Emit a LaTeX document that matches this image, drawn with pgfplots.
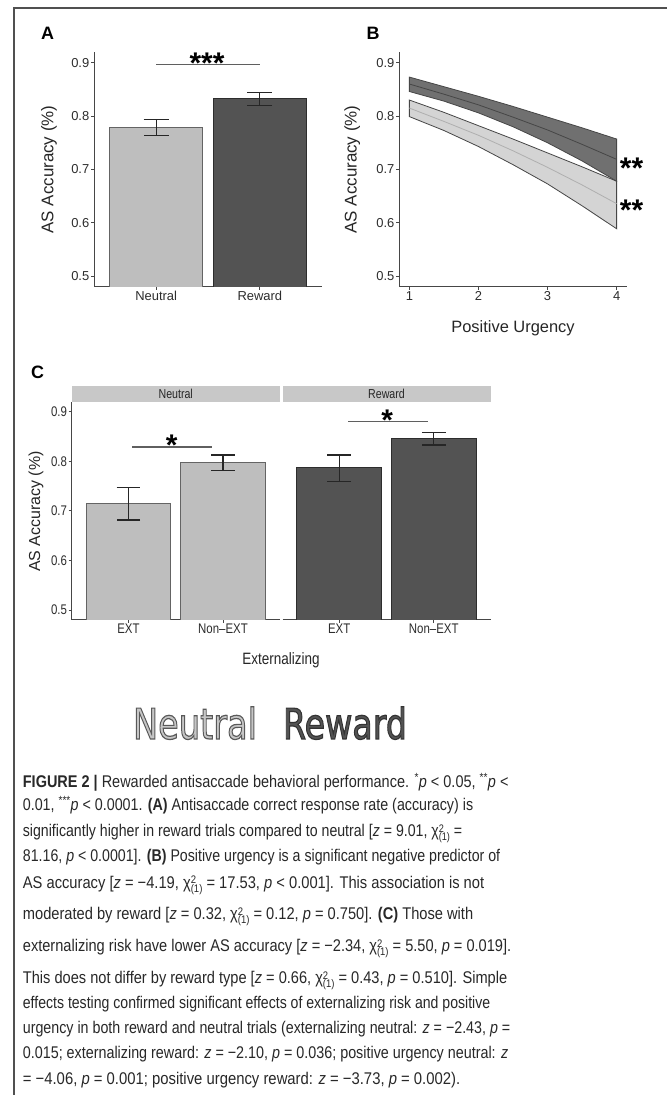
\documentclass[border=0pt]{standalone}
\usepackage{pgfplots}
\pgfplotsset{compat=1.18}
\usepackage{fontspec}
\usepackage{graphicx}
\setmainfont{Liberation Sans}
\newfontfamily\narrowfont{Liberation Sans}[FakeStretch=0.82]
\newfontfamily\legfont{DejaVu Sans}

\definecolor{neutfill}{RGB}{190,190,190}
\definecolor{neutline}{RGB}{100,100,100}
\definecolor{rewfill}{RGB}{83,83,83}
\definecolor{rewline}{RGB}{45,45,45}
\definecolor{axisgray}{RGB}{70,70,70}
\definecolor{tickgray}{RGB}{45,45,45}
\definecolor{bandD}{RGB}{112,112,112}
\definecolor{bandDline}{RGB}{70,70,70}
\definecolor{bandL}{RGB}{212,212,212}
\definecolor{bandLline}{RGB}{175,175,175}
\definecolor{stripgray}{RGB}{200,200,200}
\definecolor{captext}{RGB}{40,40,40}
\definecolor{siggray}{RGB}{95,95,95}
\definecolor{framegray}{RGB}{80,80,80}
\definecolor{legneut}{RGB}{198,198,198}

\newcommand\chisq{χ\rlap{\raisebox{4.5bp}{\fontsize{11}{11}\selectfont 2}}\raisebox{-4bp}{\fontsize{11}{11}\selectfont (1)}}
\newcommand\capline[3]{\node[anchor=base west, inner sep=0pt, text=captext] at (22.7,{1095-#1}) {\resizebox{#2bp}{\height}{\fontsize{17}{20}\selectfont #3}};}

\pgfplotsset{
  gg/.style={
    scale only axis,
    axis x line*=bottom, axis y line*=left,
    axis line style={-, axisgray, line width=1bp},
    tick style={axisgray, line width=0.8bp},
    tick align=outside, major tick length=3bp,
    ymin=0.48, ymax=0.92,
    ytick={0.5,0.6,0.7,0.8,0.9},
    yticklabels={0.5,0.6,0.7,0.8,0.9},
    tick label style={text=tickgray},
    xticklabel style={inner sep=1bp},
    yticklabel style={inner sep=1.5bp},
  },
  ebar/.style={
    error bars/.cd, y dir=both, y explicit,
    error bar style={line width=1.1bp, color=black!85},
    error mark options={rotate=90, mark size=#1, line width=1.1bp, color=black!85},
  },
}

\begin{document}
\begin{tikzpicture}[x=1bp,y=1bp]
\useasboundingbox (0,0) rectangle (667,1095);
\fill[white] (0,0) rectangle (667,1095);
% frame
\draw[framegray, line width=1.4bp] (14,0) -- (14,1087) -- (667,1087);

% ---------------- Panel A ----------------
\begin{axis}[gg, at={(94bp,808bp)}, anchor=south west, width=228bp, height=235bp,
  xmin=0.4, xmax=2.6, xtick={1,2}, xticklabels={Neutral,Reward},
  tick label style={font=\fontsize{13}{15}\selectfont},
  ylabel={AS Accuracy (\%)}, ylabel style={at={(axis description cs:-0.197,0.5)}, anchor=center, font=\fontsize{17}{20}\selectfont, text=black!85}]
\addplot[ybar, bar width=93.3bp, bar shift=0pt, fill=neutfill, draw=neutline, line width=0.9bp, ebar=12.6bp]
  coordinates {(1,0.7785) += (0,0.0145) -= (0,0.0150)};
\addplot[ybar, bar width=93.3bp, bar shift=0pt, fill=rewfill, draw=rewline, line width=0.9bp, ebar=12.6bp]
  coordinates {(2,0.8327) += (0,0.0120) -= (0,0.0123)};
\draw[siggray, line width=1.4bp] (axis cs:1,0.8966) -- (axis cs:2,0.8966);
\end{axis}
\node[anchor=base, inner sep=0pt, font=\fontsize{30}{30}\selectfont\bfseries] at (207,1021) {***};
\node[inner sep=0pt, font=\fontsize{18}{20}\selectfont\bfseries] at (47.5,1062) {A};

% ---------------- Panel B ----------------
\begin{axis}[gg, at={(399bp,808bp)}, anchor=south west, width=228bp, height=235bp,
  xmin=0.85, xmax=4.15, xtick={1,2,3,4}, xticklabels={1,2,3,4},
  tick label style={font=\fontsize{13}{15}\selectfont},
  ylabel={AS Accuracy (\%)}, ylabel style={at={(axis description cs:-0.205,0.5)}, anchor=center, font=\fontsize{17}{20}\selectfont, text=black!85},
  xlabel={Positive Urgency}, xlabel style={at={(axis description cs:0.5,-0.1745)}, anchor=center, font=\fontsize{16.5}{20}\selectfont, text=black!85}]
% Neutral band
\addplot[fill=bandL, draw=bandDline, line width=0.8bp] coordinates {
  (1,0.830) (1.5,0.807) (2,0.782) (2.5,0.757) (3,0.731) (3.5,0.705) (4,0.678)
  (4,0.589) (3.5,0.632) (3,0.673) (2.5,0.709) (2,0.743) (1.5,0.773) (1,0.799)} -- cycle;
\addplot[bandLline, line width=0.8bp] coordinates {
  (1,0.815) (1.5,0.790) (2,0.764) (2.5,0.735) (3,0.704) (3.5,0.671) (4,0.636)};
% Reward band
\addplot[fill=bandD, draw=bandDline, line width=0.8bp] coordinates {
  (1,0.873) (1.5,0.855) (2,0.837) (2.5,0.818) (3,0.798) (3.5,0.778) (4,0.757)
  (4,0.678) (3.5,0.716) (3,0.750) (2.5,0.780) (2,0.806) (1.5,0.828) (1,0.846)} -- cycle;
\addplot[bandDline, line width=0.8bp] coordinates {
  (1,0.860) (1.5,0.841) (2,0.821) (2.5,0.798) (3,0.774) (3.5,0.747) (4,0.719)};
\end{axis}
\node[anchor=base, inner sep=0pt, font=\fontsize{30}{30}\selectfont\bfseries] at (631.5,916) {**};
\node[anchor=base, inner sep=0pt, font=\fontsize{30}{30}\selectfont\bfseries] at (631.5,874) {**};
\node[inner sep=0pt, font=\fontsize{18}{20}\selectfont\bfseries] at (373,1062) {B};

% ---------------- Panel C ----------------
\node[inner sep=0pt, font=\fontsize{18}{20}\selectfont\bfseries] at (37.5,723) {C};
\fill[stripgray] (71.7,693.3) rectangle (279.7,709);
\fill[stripgray] (282.5,693.3) rectangle (490.5,709);
\node[inner sep=0pt, font=\narrowfont\fontsize{13}{15}\selectfont, text=black!85] at (175.7,701.2) {Neutral};
\node[inner sep=0pt, font=\narrowfont\fontsize{13}{15}\selectfont, text=black!85] at (386.5,701.2) {Reward};

\begin{axis}[gg, at={(71.7bp,475bp)}, anchor=south west, width=208bp, height=218.3bp,
  xmin=0.4, xmax=2.6, xtick={1,2}, xticklabels={EXT,Non–EXT},
  tick label style={font=\narrowfont\fontsize{14}{16}\selectfont},
  ylabel={AS Accuracy (\%)}, ylabel style={at={(axis description cs:-0.172,0.496)}, anchor=center, font=\fontsize{16}{20}\selectfont, text=black!85}]
\addplot[ybar, bar width=84.7bp, bar shift=0pt, fill=neutfill, draw=neutline, line width=0.9bp, ebar=11.8bp]
  coordinates {(1,0.7151) += (0,0.0315) -= (0,0.0336)};
\addplot[ybar, bar width=84.7bp, bar shift=0pt, fill=neutfill, draw=neutline, line width=0.9bp, ebar=11.8bp]
  coordinates {(2,0.7970) += (0,0.0155) -= (0,0.0154)};
\draw[siggray, line width=1.4bp] (axis cs:1.04,0.829) -- (axis cs:1.885,0.829);
\end{axis}

\begin{axis}[gg, at={(282.5bp,475bp)}, anchor=south west, width=208bp, height=218.3bp,
  axis y line=none, ytick=\empty,
  xmin=0.4, xmax=2.6, xtick={1,2}, xticklabels={EXT,Non–EXT},
  tick label style={font=\narrowfont\fontsize{14}{16}\selectfont}]
\addplot[ybar, bar width=84.7bp, bar shift=0pt, fill=rewfill, draw=rewline, line width=0.9bp, ebar=11.8bp]
  coordinates {(1,0.7877) += (0,0.0248) -= (0,0.0290)};
\addplot[ybar, bar width=84.7bp, bar shift=0pt, fill=rewfill, draw=rewline, line width=0.9bp, ebar=11.8bp]
  coordinates {(2,0.8462) += (0,0.0113) -= (0,0.0135)};
\draw[siggray, line width=1.4bp] (axis cs:1.095,0.8796) -- (axis cs:1.94,0.8796);
\end{axis}
\node[anchor=base, inner sep=0pt, font=\fontsize{30}{30}\selectfont\bfseries] at (171.7,639.5) {*};
\node[anchor=base, inner sep=0pt, font=\fontsize{30}{30}\selectfont\bfseries] at (387.3,664.5) {*};
\node[inner sep=0pt, font=\narrowfont\fontsize{16.5}{20}\selectfont, text=black!85] at (281,435) {Externalizing};

% ---------------- Caption ----------------
\capline{787.3}{485.6}{\textbf{FIGURE 2 |} Rewarded antisaccade behavioral performance. \textsuperscript{*}\textit{p} < 0.05, \textsuperscript{**}\textit{p} <}
\capline{810.7}{450.3}{0.01, \textsuperscript{***}\textit{p} < 0.0001. \textbf{(A)} Antisaccade correct response rate (accuracy) is}
\capline{836.7}{439.3}{significantly higher in reward trials compared to neutral [\textit{z} = 9.01, \chisq{} =}
\capline{861.7}{477.3}{81.16, \textit{p} < 0.0001]. \textbf{(B)} Positive urgency is a significant negative predictor of}
\capline{888.3}{461.3}{AS accuracy [\textit{z} = −4.19, \chisq{} = 17.53, \textit{p} < 0.001]. This association is not}
\capline{920}{450.3}{moderated by reward [\textit{z} = 0.32, \chisq{} = 0.12, \textit{p} = 0.750]. \textbf{(C)} Those with}
\capline{951.7}{488.3}{externalizing risk have lower AS accuracy [\textit{z} = −2.34, \chisq{} = 5.50, \textit{p} = 0.019].}
\capline{984}{484.3}{This does not differ by reward type [\textit{z} = 0.66, \chisq{} = 0.43, \textit{p} = 0.510]. Simple}
\capline{1008.3}{467.3}{effects testing confirmed significant effects of externalizing risk and positive}
\capline{1033.3}{487.3}{urgency in both reward and neutral trials (externalizing neutral: \textit{z} = −2.43, \textit{p} =}
\capline{1058.3}{485.3}{0.015; externalizing reward: \textit{z} = −2.10, \textit{p} = 0.036; positive urgency neutral: \textit{z}}
\capline{1085}{437.3}{= −4.06, \textit{p} = 0.001; positive urgency reward: \textit{z} = −3.73, \textit{p} = 0.002).}

% ---------------- Legend (outlined text) ----------------
\node[anchor=base, inner sep=0pt] at (195,356) {\resizebox{124bp}{\height}{\legfont\fontsize{42.5}{45}\selectfont\color{legneut}\special{pdf:literal direct 2 Tr 1.2 w 0.35 0.35 0.35 RG}Neutral\special{pdf:literal direct 0 Tr}}};
\node[anchor=base, inner sep=0pt] at (345,356) {\resizebox{124bp}{\height}{\legfont\fontsize{42.5}{45}\selectfont\color{rewfill}\special{pdf:literal direct 2 Tr 1.2 w 0.2 0.2 0.2 RG}Reward\special{pdf:literal direct 0 Tr}}};
\end{tikzpicture}
\end{document}
